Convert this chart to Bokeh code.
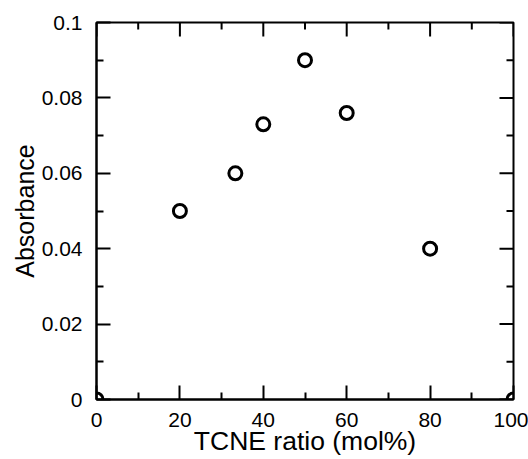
import math
from bokeh.plotting import figure
from bokeh.models import LinearAxis, FixedTicker, Range1d
from bokeh.embed import file_html
from bokeh.resources import INLINE

# Data
tcne_ratio = [0, 20, 33.3, 40, 50, 60, 80, 100]
absorbance = [0.0, 0.050, 0.060, 0.073, 0.090, 0.076, 0.040, 0.0]

x_ticks = [0, 20, 40, 60, 80, 100]
x_minor = [10, 30, 50, 70, 90]
x_labels = ["0", "20", "40", "60", "80", "100"]
y_ticks = [0, 0.02, 0.04, 0.06, 0.08, 0.1]
y_minor = [0.01, 0.03, 0.05, 0.07, 0.09]
y_labels = ["0", "0.02", "0.04", "0.06", "0.08", "0.1"]

FONT = "Liberation Sans"

p = figure(width=528, height=459, output_backend="svg", toolbar_location=None,
           x_range=Range1d(x_ticks[0], x_ticks[-1]),
           y_range=Range1d(y_ticks[0], y_ticks[-1]),
           x_axis_type=None, y_axis_type=None,
           min_border_left=96, min_border_right=15, min_border_top=22,
           min_border_bottom=60)
p.background_fill_color = "white"
p.border_fill_color = "white"
p.outline_line_color = "black"
p.outline_line_width = 2
p.xgrid.visible = False
p.ygrid.visible = False

def style_axis(ax):
    ax.axis_line_color = "black"
    ax.axis_line_width = 2
    ax.major_tick_in = 14
    ax.major_tick_out = 0
    ax.minor_tick_in = 7
    ax.minor_tick_out = 0
    ax.major_tick_line_width = 2
    ax.minor_tick_line_width = 2
    ax.major_tick_line_color = "black"
    ax.minor_tick_line_color = "black"
    ax.major_label_text_font = FONT
    ax.major_label_text_font_size = "21px"
    ax.major_label_text_color = "black"
    ax.axis_label_text_font = FONT
    ax.axis_label_text_font_style = "normal"
    ax.axis_label_text_color = "black"

xt = FixedTicker(ticks=x_ticks, minor_ticks=x_minor)
yt = FixedTicker(ticks=y_ticks, minor_ticks=y_minor)

xb = LinearAxis(ticker=xt, axis_label="TCNE ratio (mol%)")
xb.major_label_overrides = dict(zip(x_ticks, x_labels))
style_axis(xb)
xb.major_label_standoff = 13
xb.axis_label_standoff = -4
xb.axis_label_text_font_size = "26.5px"
p.add_layout(xb, "below")

yl = LinearAxis(ticker=yt, axis_label="Absorbance")
yl.major_label_overrides = dict(zip(y_ticks, y_labels))
style_axis(yl)
yl.major_label_standoff = 14
yl.axis_label_standoff = 0
yl.axis_label_text_font_size = "25px"
p.add_layout(yl, "left")

# Mirrored inward ticks on the top and right frame edges
y_top = y_ticks[-1]
x_right = x_ticks[-1]
p.ray(x=x_ticks, y=[y_top] * len(x_ticks), length=14, length_units="screen",
      angle=-math.pi / 2, line_color="black", line_width=2)
p.ray(x=x_minor, y=[y_top] * len(x_minor), length=7, length_units="screen",
      angle=-math.pi / 2, line_color="black", line_width=2)
p.ray(x=[x_right] * len(y_ticks), y=y_ticks, length=14, length_units="screen",
      angle=math.pi, line_color="black", line_width=2)
p.ray(x=[x_right] * len(y_minor), y=y_minor, length=7, length_units="screen",
      angle=math.pi, line_color="black", line_width=2)

p.scatter(tcne_ratio, absorbance, marker="circle", size=13,
          fill_color=None, line_color="black", line_width=3)

open("out.html", "w").write(file_html(p, INLINE))
